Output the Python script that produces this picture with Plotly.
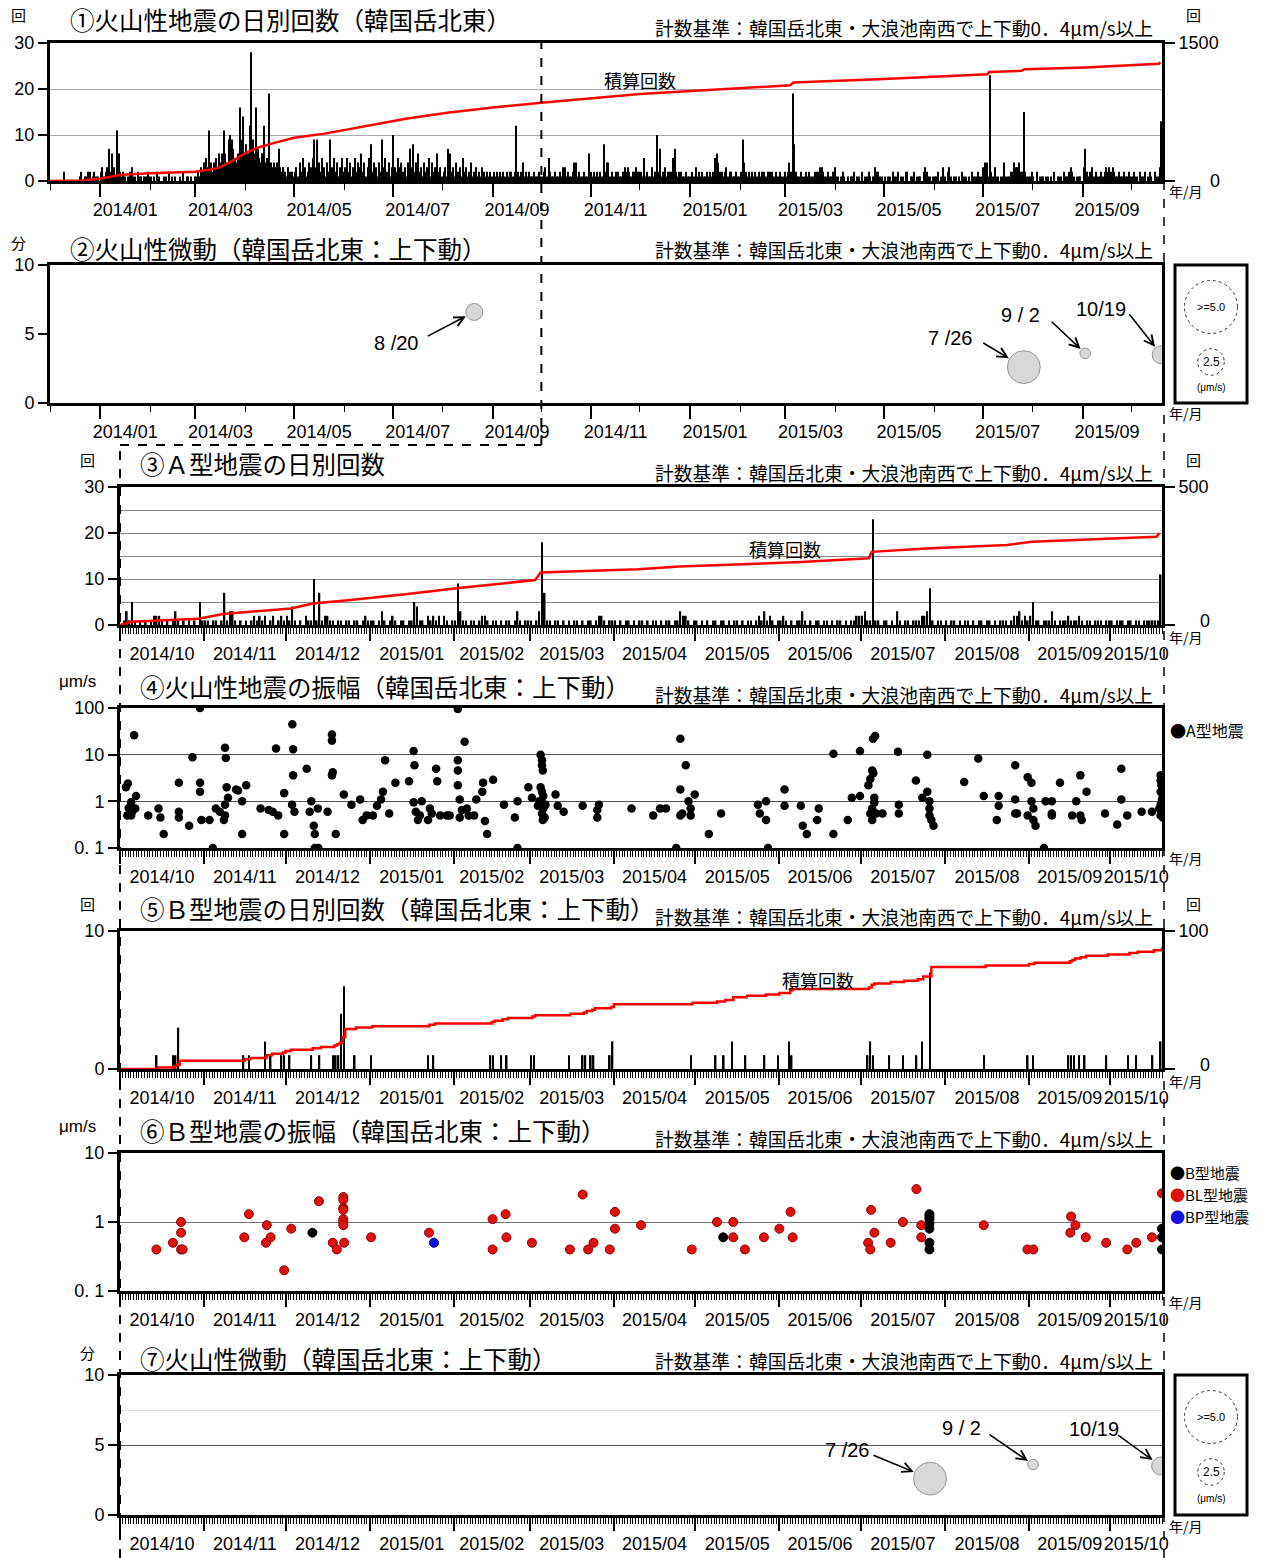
import plotly.graph_objects as go
from datetime import datetime, timedelta

W, H = 1279, 1558

# ======================= DATA =======================
# (1) daily count of volcanic earthquakes, Dec 2013 - 19 Oct 2015
#     one string per month, one base-36 digit per day (a=10, b=11, ... s=28)
vq_daily_2013 = ["0000000 0200000 0000120 1122012 110"]
vq_daily_2014 = [
    "2312372 631b621 2101231 1021101 121",
    "1010210 0110201 0100102 0110101",
    "1213245 3b42453 646b649 a97546g 9e6",
    "86cs96g 7546c45 j434347 3232132 21",
    "2314253 1243593 9425314 2935241 352",
    "3524135 2436241 3582431 4293524 13",
    "a325342 3147382 4623142 3514236 231",
    "2317623 1423152 3124123 1213212 121",
    "2121212 1212212 c212412 1211211 21",
    "1231521 1211213 3121124 4121121 162",
    "1212121 8244121 1221123 2321223 22",
    "2151211 312a271 2312225 7212211 211",
]
vq_daily_2015 = [
    "1213121 2112121 2564221 2312211 211",
    "2942121 2121212 2112221 1212112",
    "1242j82 1121121 2111222 3321121 123",
    "1101210 1011201 1020112 1013221 10",
    "1011021 1201102 2011201 1102321 101",
    "1120131 0231011 0102110 1021112 11",
    "3441n21 3110114 1112243 3422f21 112",
    "1020111 0110102 0111021 1232101 110",
    "3721231 1211212 3232321 1211211 21",
    "1211021 1201210 2113d",
]
# cumulative count (right axis of panel 1)
vq_cum_dates = ["2013-12-01", "2013-12-20", "2014-01-01", "2014-01-13", "2014-02-01",
                "2014-03-01", "2014-03-15", "2014-03-25", "2014-04-02", "2014-04-10",
                "2014-04-20", "2014-05-01", "2014-05-20", "2014-06-15", "2014-07-10",
                "2014-08-05", "2014-09-01", "2014-10-01", "2014-12-01", "2015-03-04",
                "2015-03-06", "2015-05-01", "2015-07-04", "2015-07-05", "2015-07-25",
                "2015-07-27", "2015-09-03", "2015-10-18", "2015-10-19"]
vq_cum_values = [0, 5, 25, 65, 85, 100, 140, 230, 315, 370, 420, 470, 515, 600, 680,
                 745, 800, 850, 945, 1040, 1070, 1110, 1160, 1185, 1198, 1215, 1235,
                 1275, 1290]

# (2)/(7) volcanic tremor: date, duration (min), amplitude (um/s)
tremor_dates = ["2014-08-20", "2015-07-26", "2015-09-02", "2015-10-19"]
tremor_minutes = [6.6, 2.6, 3.6, 3.5]
tremor_amp = [1.6, 3.1, 1.0, 1.7]
tremor_labels = ["8 /20", "7 /26", "9 / 2", "10/19"]

# (3) daily count of A-type earthquakes, Oct 2014 - 19 Oct 2015 (base-36 per day)
a_daily_2014 = [
    "0131510 1010122 2101013 1010101 051",
    "1101101 7133101 0101212 1201201 21",
    "2141010 211a171 2211011 0110110 121",
]
a_daily_2015 = [
    "1101310 1210110 1154110 2121202 101",
    "1931101 1012210 1101011 0131011",
    "1013i71 1011010 1011010 1101221 011",
    "1010110 1011010 1101011 0113221 01",
    "1010101 1011010 1101011 0121312 101",
    "1210101 1310101 1011010 1101011 22",
    "2311n11 0110103 1011011 1223810 110",
    "1011010 1101011 0110101 1101223 121",
    "2511011 1310111 2111210 1101110 11",
    "1011101 1011011 1111b",
]
a_cum_dates = ["2014-10-01", "2014-10-05", "2014-10-30", "2014-11-08", "2014-12-03",
               "2014-12-11", "2014-12-24", "2015-01-15", "2015-02-02", "2015-03-03",
               "2015-03-05", "2015-04-10", "2015-04-25", "2015-06-09", "2015-07-04",
               "2015-07-05", "2015-07-25", "2015-08-24", "2015-09-02", "2015-10-18",
               "2015-10-19"]
a_cum_values = [0, 12, 23, 40, 60, 78, 90, 112, 133, 163, 190, 202, 212, 228, 242,
                265, 277, 290, 302, 320, 333]

# (4) A-type amplitude: day number since 2014-10-01, amplitude (um/s)
a_amp_day = [1.7, 2.4, 3.6, 2.7, 3.6, 4.7, 5.4, 5.1, 2.2, 4.0, 9.9, 13.7, 14.4, 15.6, 21.2,
             21.2, 21.2, 25, 26.2, 29, 29, 29, 29.5, 32.5, 33.7, 34.8, 36.3, 37.8, 38.2,
             38.5, 38.8, 39.3, 38.2, 38.2, 42.3, 43, 44.5, 44.5, 46, 51.3, 54.3, 55.8, 57,
             57.8, 60, 60, 63, 63.3, 63.3, 62.9, 63.8, 68.3, 69.4, 70, 70.9, 71.3, 71.3,
             72.4, 72.6, 76, 77.6, 77.6, 77.6, 77.9, 79, 82, 84.8, 88, 88.9, 90.4, 92.7,
             94.2, 95.7, 96.4, 97.2, 98.7, 101, 106, 107.7, 108, 107.7, 108.5, 109.3, 110,
             110.7, 113, 113.7, 114.4, 116, 116.4, 117.5, 120, 121, 124, 124, 124, 124,
             124.7, 125.5, 124.7, 126.5, 127.3, 128, 130, 130.8, 133, 133.3, 134, 134.8,
             137, 141, 145, 146, 146, 150, 151.3, 154.5, 155, 155, 155.3, 154.5, 155,
             155.5, 154.8, 155.5, 155, 156, 155.3, 156.3, 154, 153.5, 160, 160.8, 163,
             170, 175.4, 175.4, 176, 188, 196, 198.5, 200.7, 204.5, 206, 208, 206, 206,
             206.7, 209, 209.8, 211.3, 209.8, 216.5, 221, 234.6, 235.3, 237.6, 237.6,
             238.3, 244.4, 244.4, 250.4, 251.1, 252.6, 257, 256.4, 262.4, 262.4, 267.7,
             269.2, 272.2, 272.2, 275.3, 276, 277, 277.8, 276.7, 277.1, 277.5, 277.5, 276,
             276.7, 278.2, 280.5, 276.7, 286.2, 286.5, 286.5, 292.8, 297, 295.2, 297,
             297.8, 297.8, 297.8, 298.5, 299.3, 310.6, 315.8, 317.8, 323.3, 323.3, 322.6,
             329.4, 329.4, 329.4, 330.1, 334, 335.4, 334, 335.4, 336.1, 336.1, 336.9, 340,
             340.6, 342.9, 342.9, 342.9, 345.9, 350.4, 351.9, 353.4, 353.4, 353.9, 355.7,
             362.5, 367, 368.5, 368.5, 370.7, 376, 379.8, 383, 383, 383.3, 383, 383.5, 383,
             383.3, 383, 382.5, 383.8, 383.8]
a_amp_val = [2.0, 2.4, 0.95, 0.72, 0.5, 26, 1.3, 0.7, 0.5, 0.6, 0.5, 0.7, 0.45, 0.2, 2.5,
             0.45, 0.6, 0.3, 8.8, 100, 2.5, 1.6, 0.4, 0.4, 0.1, 0.7, 0.6, 0.4, 14,
             8.5, 2.0, 1.2, 0.85, 0.5, 1.8, 1.7, 1.0, 0.2, 2.2, 0.7, 0.65, 0.6, 13.5,
             0.5, 1.5, 0.2, 45, 13, 3.6, 0.85, 0.6, 5, 0.6, 1.0, 0.3, 0.2, 0.1,
             0.7, 0.1, 0.6, 27, 20, 3.6, 4.2, 0.2, 1.4, 0.85, 1.1, 0.4, 0.5, 0.5,
             0.8, 1.1, 1.6, 7.6, 0.55, 2.5, 2.7, 12, 5.9, 0.95, 0.6, 0.4, 0.5,
             1.0, 0.4, 0.7, 0.55, 5, 2.7, 0.5, 0.5, 0.5, 95, 7.6, 4.6, 2.2,
             1.1, 0.65, 0.45, 19, 0.7, 0.5, 0.5, 1.1, 1.6, 2.5, 0.38, 0.2,
             2.9, 0.85, 0.45, 1.0, 0.1, 2.0, 1.2, 10, 7.6, 5.9, 4.6, 2.0, 1.6,
             1.3, 1.0, 0.7, 0.55, 0.45, 0.4, 0.85, 1.0, 0.8, 1.4, 0.8, 0.6,
             0.8, 0.65, 0.45, 0.85, 0.7, 0.5, 0.7, 0.7, 0.1, 22, 5.9, 1.8, 0.5,
             0.55, 1.0, 0.5, 1.4, 0.7, 0.2, 0.55, 0.85, 0.55, 1.0, 0.4,
             0.1, 1.8, 0.8, 0.8, 0.3, 0.2, 0.7, 0.4, 10.5, 0.2, 0.4,
             1.2, 12, 1.3, 2.2, 3.0, 22, 25, 4.6, 4.0, 1.2, 0.95, 0.55,
             0.4, 0.55, 0.55, 0.7, 11.5, 0.85, 0.55, 2.8, 10, 1.2, 1.6,
             1.0, 0.7, 0.5, 0.4, 0.3, 2.6, 8.3, 1.3, 1.3, 0.8, 0.4,
             5.9, 1.1, 0.55, 0.55, 3.3, 2.5, 0.5, 1.0, 0.7, 0.4, 0.3, 0.1,
             1.0, 1.0, 0.55, 0.5, 2.5, 0.5, 1.0, 3.6, 0.5, 0.4, 1.6,
             0.55, 0.32, 5, 1.1, 0.5, 0.6, 0.6, 3.6, 2.8, 2.2, 1.6, 1.1, 0.85,
             0.6, 0.5, 0.7, 1.3, 0.45]

# (5) B-type daily counts: day number since 2014-10-01 and count
b_event_day = [13, 19, 20, 21, 45, 47, 53, 55, 59, 60, 62, 70, 73, 78, 79, 80, 81, 82, 86,
               92, 113, 115, 136, 137, 140, 142, 151, 152, 165, 170, 171, 173, 174, 180,
               181, 210, 219, 222, 225, 230, 237, 242, 246, 247, 275, 276, 277, 283, 288,
               293, 295, 298, 318, 334, 336, 349, 350, 351, 353, 355, 363, 371, 374, 380,
               383]
b_event_count = [1, 1, 1, 3, 1, 1, 2, 1, 1, 1, 1, 1, 1, 1, 1, 1, 4, 6, 1,
                 1, 1, 1, 1, 1, 1, 1, 1, 1, 1, 1, 1, 1, 1, 1,
                 2, 1, 1, 1, 2, 1, 1, 1, 2, 1, 1, 2, 1, 1, 1,
                 1, 2, 7, 1, 1, 1, 1, 1, 1, 1, 1, 1, 1, 1, 1,
                 2]

# (6) B-type amplitudes (day number since 2014-10-01, um/s)
bl_day = [12.9, 19, 22, 22, 22, 22.6, 45.3, 47, 53.3, 53.6, 55, 60, 62.6, 72.8, 77.9, 79.4,
          81.8, 81.8, 81.8, 81.8, 81.8, 81.8, 81.8, 82.1, 92, 113.4, 136.8, 136.8, 141.6,
          141.9, 151.3, 165.3, 170, 172, 174, 180, 181.9, 181.9, 191.5, 210.2, 219.5, 225.5,
          225.5, 229.8, 236.8, 242.5, 246.6, 247.4, 275.2, 276, 276.3, 277.5, 283.5, 288,
          293, 294.8, 294.8, 317.8, 333.9, 336.1, 349.7, 350, 351.6, 355.4, 362.9, 370.7,
          374, 379.8, 383.5]
bl_val = [0.4, 0.5, 1.0, 0.7, 0.4, 0.4, 0.6, 1.3, 0.5, 0.9, 0.6, 0.2, 0.8, 2.0, 0.5, 0.4,
          2.3, 2.1, 1.6, 1.5, 1.1, 1.0, 0.9, 0.5, 0.6, 0.7, 0.4, 1.1, 1.3,
          0.6, 0.5, 0.4, 2.5, 0.4, 0.5, 0.4, 1.4, 0.8, 0.9, 0.4, 1.0, 1.0,
          0.6, 0.4, 0.6, 0.8, 1.4, 0.6, 0.5, 0.4, 1.5, 0.7, 0.5, 1.0,
          3.0, 0.9, 0.6, 0.9, 0.4, 0.4, 0.7, 1.2, 0.9, 0.6, 0.5, 0.4,
          0.5, 0.6, 2.6]
b_day = [70.4, 221.8, 297.8, 297.8, 297.8, 297.8, 297.8, 297.8, 297.8, 383.5, 383.5, 383.5]
b_val = [0.7, 0.6, 1.3, 1.2, 1.1, 0.95, 0.8, 0.5, 0.4, 0.8, 0.6, 0.4]
bp_day = [115.2]
bp_val = [0.5]

# ======================= HELPERS =======================
P1_START, END = datetime(2013, 12, 1), datetime(2015, 10, 20)
P3_START = datetime(2014, 10, 1)
DAY_MS = 86400000

JP = "Noto Sans CJK JP"
NUMFONT = "Liberation Sans, Arial, sans-serif"
TICKFONT = dict(family=NUMFONT, size=18, color="black")
SIZE_PER_AMP = 10.6   # bubble diameter in px per um/s


def next_month(d):
    return datetime(d.year + d.month // 12, d.month % 12 + 1, 1)


def decode_months(first, codes):
    dates, vals = [], []
    m0 = first
    for code in codes:
        code = code.replace(" ", "")
        for i, ch in enumerate(code):
            dates.append(m0 + timedelta(days=i, hours=12))
            vals.append(int(ch, 36))
        m0 = next_month(m0)
    return dates, vals


def day_to_date(d):
    return P3_START + timedelta(days=d) + timedelta(hours=12)


def label_ticks(start, end, months=None):
    vals, texts = [], []
    s = start
    while s < end:
        e = min(next_month(s), end)
        if months is None or s.month in months:
            vals.append(s + (e - s) / 2)
            texts.append(s.strftime("%Y/%m"))
        s = next_month(s)
    return vals, texts


vq_dates, vq_vals = decode_months(P1_START, vq_daily_2013 + vq_daily_2014 + vq_daily_2015)
a_dates, a_vals = decode_months(P3_START, a_daily_2014 + a_daily_2015)

n_days = (END - P3_START).days
b_daily = [0] * n_days
for d, c in zip(b_event_day, b_event_count):
    b_daily[d] += c
b_dates = [P3_START + timedelta(days=i, hours=12) for i in range(n_days)]
b_cum, run = [], 0
for c in b_daily:
    run += c
    b_cum.append(run)
b_cum_x = [P3_START] + [P3_START + timedelta(days=i + 1) for i in range(n_days)]
b_cum_y = [0] + b_cum

# panel geometry in pixels: (top, bottom, left)
PAN = {1: (43, 181, 50), 2: (265, 403, 50), 3: (487, 625, 120), 4: (708, 848, 120),
       5: (931, 1069, 120), 6: (1153, 1291, 120), 7: (1375, 1515, 120)}
RIGHT = 1162


def xdom(p):
    return [PAN[p][2] / W, RIGHT / W]


def ydom(p):
    return [1 - PAN[p][1] / H, 1 - PAN[p][0] / H]


def ax(n):
    return "" if n == 1 else str(n)


fig = go.Figure()

# ---------- traces ----------
bw = 0.7 * DAY_MS
fig.add_trace(go.Bar(x=vq_dates, y=vq_vals, width=bw, marker=dict(color="black", line_width=0),
                     xaxis="x", yaxis="y"))
fig.add_trace(go.Scatter(x=vq_cum_dates, y=vq_cum_values, mode="lines",
                         line=dict(color="#ff0000", width=2.5), xaxis="x", yaxis="y8"))

tr_x = [datetime.strptime(d, "%Y-%m-%d") + timedelta(hours=12) for d in tremor_dates]
tr_size = [a * SIZE_PER_AMP for a in tremor_amp]
for xa, ya in (("x2", "y2"), ("x7", "y7")):
    fig.add_trace(go.Scatter(x=tr_x, y=tremor_minutes, mode="markers",
                             marker=dict(size=tr_size, color="#c8c8c8",
                                         line=dict(color="#6a6a6a", width=1)),
                             xaxis=xa, yaxis=ya))

bw3 = 0.6 * DAY_MS
fig.add_trace(go.Bar(x=a_dates, y=a_vals, width=bw3, marker=dict(color="black", line_width=0),
                     xaxis="x3", yaxis="y3"))
fig.add_trace(go.Scatter(x=a_cum_dates, y=a_cum_values, mode="lines",
                         line=dict(color="#ff0000", width=2.5), xaxis="x3", yaxis="y9"))

fig.add_trace(go.Scatter(x=[day_to_date(d) for d in a_amp_day], y=a_amp_val, mode="markers",
                         marker=dict(size=8.5, color="black"), xaxis="x4", yaxis="y4"))

fig.add_trace(go.Bar(x=b_dates, y=b_daily, width=bw3, marker=dict(color="black", line_width=0),
                     xaxis="x5", yaxis="y5"))
fig.add_trace(go.Scatter(x=b_cum_x, y=b_cum_y, mode="lines", line_shape="hv",
                         line=dict(color="#ff0000", width=2.5), xaxis="x5", yaxis="y10"))

for dd, vv, col, lc in ((bl_day, bl_val, "#e01010", "#900000"),
                        (b_day, b_val, "black", "black"),
                        (bp_day, bp_val, "#1010e0", "#000090")):
    fig.add_trace(go.Scatter(x=[day_to_date(d) for d in dd], y=vv, mode="markers",
                             marker=dict(size=9, color=col, line=dict(color=lc, width=1)),
                             xaxis="x6", yaxis="y6"))

# dummy traces to activate tick-label axes
for p in range(1, 8):
    y0 = 1 if p in (4, 6) else 0
    st = P1_START if p <= 2 else P3_START
    fig.add_trace(go.Scatter(x=[st], y=[y0], mode="markers", marker=dict(opacity=0),
                             hoverinfo="skip", xaxis="x" + str(7 + p), yaxis="y" + ax(p)))

# ---------- axes ----------
layout = dict(template="none", width=W, height=H, margin=dict(l=0, r=0, t=0, b=0, pad=0),
              showlegend=False, paper_bgcolor="white", plot_bgcolor="white",
              barmode="overlay", font=dict(family=NUMFONT, color="black"))

for p in range(1, 8):
    if p <= 2:
        rng = [P1_START, END]
        tick0, dtick, mt0, mdt = "2014-01-01", "M2", "2013-12-01", "M1"
        lv, lt = label_ticks(P1_START, END, months=(1, 3, 5, 7, 9, 11))
    else:
        rng = [P3_START, END]
        tick0, dtick, mt0, mdt = "2014-10-01", "M1", "2014-10-01", DAY_MS
        lv, lt = label_ticks(P3_START, END)
    layout["xaxis" + ax(p)] = dict(
        domain=xdom(p), range=rng, type="date", anchor="y" + ax(p), showticklabels=False,
        tickmode="linear", tick0=tick0, dtick=dtick, ticks="outside", ticklen=13,
        tickwidth=1.5, tickcolor="black",
        minor=dict(ticks="outside", ticklen=6, tickwidth=1, tickcolor="black",
                   tickmode="linear", tick0=mt0, dtick=mdt, showgrid=False),
        showline=True, linewidth=3, linecolor="black", mirror=True, showgrid=False,
        zeroline=False, fixedrange=True, automargin=False)
    layout["xaxis" + str(7 + p)] = dict(
        overlaying="x" + ax(p), anchor="y" + ax(p), domain=xdom(p), range=rng, type="date",
        tickmode="array", tickvals=lv, ticktext=lt, ticks="", showline=False,
        showgrid=False, zeroline=False, tickfont=TICKFONT, ticklabelstandoff=16,
        tickangle=0, side="bottom", fixedrange=True, automargin=False)

ybase = dict(ticks="outside", ticklen=9, tickwidth=1.5, tickcolor="black", showline=True,
             linewidth=3, linecolor="black", mirror=True, zeroline=False,
             tickfont=TICKFONT, fixedrange=True, automargin=False)


def yax(p, **kw):
    d = dict(ybase)
    d.update(domain=ydom(p), anchor="x" + ax(p))
    d.update(kw)
    layout["yaxis" + ax(p)] = d


yax(1, range=[0, 30], tickmode="array", tickvals=[0, 10, 20, 30], showgrid=True,
    gridcolor="#aaaaaa", gridwidth=1)
yax(2, range=[0, 10], tickmode="array", tickvals=[0, 5, 10], showgrid=False)
yax(3, range=[0, 30], tickmode="array", tickvals=[0, 10, 20, 30], showgrid=True,
    gridcolor="#888888", gridwidth=1,
    minor=dict(tickmode="array", tickvals=[5, 15, 25], showgrid=True, gridcolor="#888888",
               gridwidth=1, ticks=""))
yax(4, type="log", range=[-1, 2], tickmode="array", tickvals=[0.1, 1, 10, 100],
    ticktext=["0. 1", "1", "10", "100"], showgrid=True, gridcolor="#555555", gridwidth=1)
yax(5, range=[0, 10], tickmode="array", tickvals=[0, 10], showgrid=False)
yax(6, type="log", range=[-1, 1], tickmode="array", tickvals=[0.1, 1, 10],
    ticktext=["0. 1", "1", "10"], showgrid=True, gridcolor="#777777", gridwidth=1)
yax(7, range=[0, 10], tickmode="array", tickvals=[0, 5, 10], showgrid=True,
    gridcolor="#555555", gridwidth=1,
    minor=dict(tickmode="array", tickvals=[7.5], showgrid=True, gridcolor="#e2e2e2",
               gridwidth=1, ticks=""))

# right-hand cumulative axes: maximum labelled by the axis, "0" placed right-aligned below
rbase = dict(side="right", ticks="outside", ticklen=12, tickwidth=1.5, tickcolor="black",
             showline=False, showgrid=False, zeroline=False, tickfont=TICKFONT,
             tickmode="array", fixedrange=True, automargin=False)
right_axes = {"yaxis8": ("y", "x", 1, 1500), "yaxis9": ("y3", "x3", 3, 500),
              "yaxis10": ("y5", "x5", 5, 100)}
for name, (over, anc, p, top) in right_axes.items():
    layout[name] = dict(rbase, overlaying=over, anchor=anc, domain=ydom(p), range=[0, top],
                        tickvals=[0, top], ticktext=["", str(top)])

fig.update_layout(**layout)

# ---------- texts ----------
ann = []


def txt(x, y, s, size=17, anchor="left", family=JP, color="black"):
    ann.append(dict(x=x / W, y=1 - y / H, xref="paper", yref="paper", text=s,
                    showarrow=False, xanchor=anchor, yanchor="middle", align="left",
                    font=dict(family=family, size=size, color=color)))


# zero labels of the right axes (right-aligned with the maximum label)
for name, (over, anc, p, top) in right_axes.items():
    right_edge = 1222 if top >= 1000 else 1212
    yshift = 0 if p == 1 else 4
    ann.append(dict(x=right_edge / W, xref="paper", y=0, yref="y" + name[5:],
                    text="0", showarrow=False, xanchor="right", yanchor="middle",
                    yshift=yshift, font=TICKFONT))

CRIT = "計数基準：韓国岳北東・大浪池南西で上下動0．4μm/s以上"
titles = [
    (1, "①火山性地震の日別回数（韓国岳北東）", 68, 20, "回", 18, 15, True, 28, 191),
    (2, "②火山性微動（韓国岳北東：上下動）", 68, 248, "分", 18, 243, False, 250, 413),
    (3, "③Ａ型地震の日別回数", 138, 463, "回", 88, 459, True, 472, 637),
    (4, "④火山性地震の振幅（韓国岳北東：上下動）", 138, 686, "μm/s", 77, 681, False, 694, 858),
    (5, "⑤Ｂ型地震の日別回数（韓国岳北東：上下動）", 138, 908, "回", 88, 903, True, 916, 1081),
    (6, "⑥Ｂ型地震の振幅（韓国岳北東：上下動）", 138, 1130, "μm/s", 77, 1126, False, 1138, 1302),
    (7, "⑦火山性微動（韓国岳北東：上下動）", 138, 1358, "分", 88, 1352, False, 1360, 1526),
]
for p, t, tx, ty, unit, ux, uy, right_unit, cy, ym in titles:
    txt(tx, ty, t, 24.5)
    txt(ux, uy, unit, 15 if unit != "μm/s" else 17, "center",
        family=JP if unit != "μm/s" else NUMFONT)
    txt(1155, cy, CRIT, 18.8, "right")
    txt(1186, ym, "年/月", 14, "center")
    if right_unit:
        txt(1193, PAN[p][0] - 28, "回", 15, "center")

txt(640, 80, "積算回数", 18, "center")
txt(785, 549, "積算回数", 18, "center")
txt(818, 980, "積算回数", 18, "center")

txt(1168, 730, "●A型地震", 16)
txt(1168, 1172, "●B型地震", 15)
txt(1168, 1194, "<span style='color:#e01010'>●</span>BL型地震", 15)
txt(1168, 1216, "<span style='color:#1010e0'>●</span>BP型地震", 15)

# tremor arrows and date labels
arrow_p2 = {0: (-48, 25, -78, -31), 1: (-42, -25, -74, 29), 2: (-35, -33, -65, 38),
            3: (-33, -42, -60, 46)}
arrow_p7 = {1: (-58, -24, -83, 29), 2: (-45, -31, -72, 37), 3: (-44, -32, -67, 37)}
for xa, ya, cfg in (("x2", "y2", arrow_p2), ("x7", "y7", arrow_p7)):
    for i, (axp, ayp, sx, sy) in cfg.items():
        ann.append(dict(x=tr_x[i], y=tremor_minutes[i], xref=xa, yref=ya, text="",
                        showarrow=True, ax=axp, ay=ayp, arrowhead=5, arrowsize=1.2,
                        arrowwidth=1.6, arrowcolor="black", standoff=tr_size[i] / 2 + 1))
        ann.append(dict(x=tr_x[i], y=tremor_minutes[i], xref=xa, yref=ya,
                        text=tremor_labels[i], showarrow=False, xshift=sx, yshift=sy,
                        font=dict(family=NUMFONT, size=20, color="black")))

# tremor legend boxes
shapes = []
for top, bot in ((265, 403), (1375, 1515)):
    shapes.append(dict(type="rect", xref="paper", yref="paper", x0=1175 / W, x1=1247 / W,
                       y0=1 - bot / H, y1=1 - top / H, line=dict(color="black", width=3)))
    for amp, cy, lab, fs in ((5.0, top + 42, "&gt;=5.0", 11), (2.5, top + 97, "2.5", 12)):
        r = amp * SIZE_PER_AMP / 2
        shapes.append(dict(type="circle", xref="paper", yref="paper",
                           x0=(1211 - r) / W, x1=(1211 + r) / W,
                           y0=1 - (cy + r) / H, y1=1 - (cy - r) / H,
                           line=dict(color="#333333", width=1, dash="dot")))
        txt(1211, cy, lab, fs, "center", family=NUMFONT)
    txt(1211, top + 123, "(μm/s)", 10, "center", family=NUMFONT)

# dashed separators
oct1 = datetime(2014, 10, 1)
frac = (oct1 - P1_START) / (END - P1_START)
x_oct = xdom(1)[0] + frac * (xdom(1)[1] - xdom(1)[0])
dash = dict(color="black", width=2, dash="dash")
shapes += [
    dict(type="line", xref="paper", yref="paper", x0=x_oct, x1=x_oct, y0=1 - 445 / H,
         y1=1 - 43 / H, line=dash),
    dict(type="line", xref="paper", yref="paper", x0=120 / W, x1=x_oct, y0=1 - 445 / H,
         y1=1 - 445 / H, line=dash),
    dict(type="line", xref="paper", yref="paper", x0=120 / W, x1=120 / W, y0=0,
         y1=1 - 445 / H, line=dash),
    dict(type="line", xref="paper", yref="paper", x0=1164 / W, x1=1164 / W, y0=0,
         y1=1 - 183 / H, line=dict(color="black", width=1.5, dash="dash")),
]

fig.update_layout(annotations=ann, shapes=shapes)
fig.write_html("out.html")
